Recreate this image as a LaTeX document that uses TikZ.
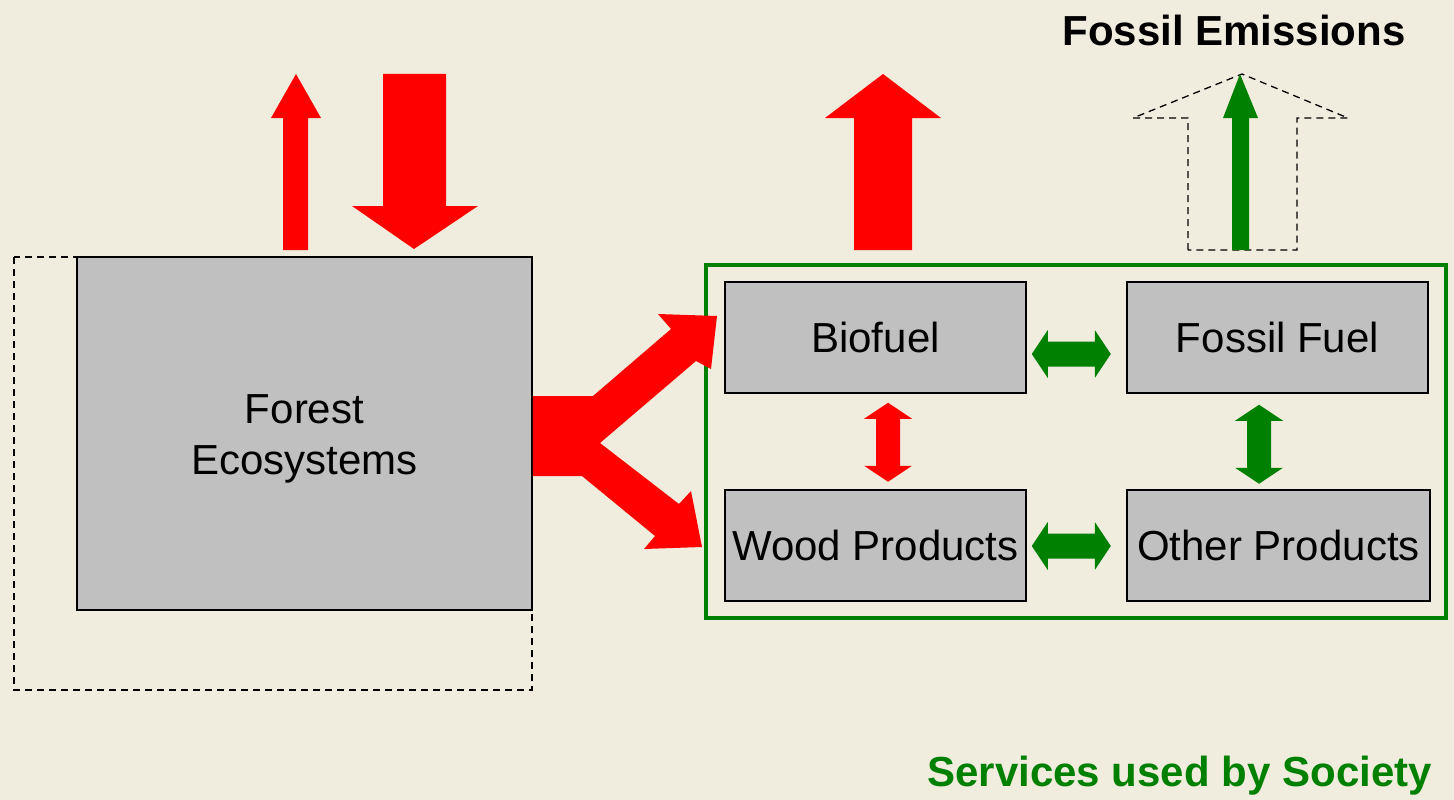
\documentclass[tikz,border=0pt]{standalone}
\usepackage{fontspec}
\setmainfont{Liberation Sans}
\usepackage{tikz}
\usetikzlibrary{calc}
\definecolor{bgcream}{RGB}{241,237,222}
\definecolor{boxgray}{RGB}{192,192,192}
\definecolor{sgreen}{RGB}{0,128,0}
\tikzstyle{box}=[rectangle,draw=black,fill=boxgray,line width=1.5pt,minimum width=301pt,minimum height=111pt,inner sep=0pt,font=\fontsize{42}{51}\selectfont,align=center]
\tikzstyle{lbl}=[inner sep=0pt,font=\fontsize{42}{51}\selectfont\bfseries]
\newcommand{\hdarr}[2]{\fill[#2] (#1) -- ++(16,-24) -- ++(0,11.5) -- ++(47,0) -- ++(0,-11.5) -- ++(16,24) -- ++(-16,24) -- ++(0,-11.5) -- ++(-47,0) -- ++(0,11.5) -- cycle;}
\newcommand{\vdarr}[2]{\fill[#2] (#1) -- ++(24,16) -- ++(-12,0) -- ++(0,47) -- ++(12,0) -- ++(-24,16) -- ++(-24,-16) -- ++(12,0) -- ++(0,-47) -- ++(-12,0) -- cycle;}
\begin{document}
\begin{tikzpicture}[x=1pt,y=-1pt]
\fill[bgcream] (0,0) rectangle (1454,800);
\useasboundingbox (0,0) rectangle (1454,800);
\draw[dashed,dash pattern=on 7pt off 5pt,line width=1.3pt] (14,257) rectangle (532,690);
\node[box,minimum width=455pt,minimum height=353pt] (forest) at (304.5,433.5) {};
\node[align=center,inner sep=0pt,font=\fontsize{42}{51}\selectfont] (forestlbl) at (304.5,438.5) {Forest\\Ecosystems};
\node[draw=sgreen,line width=4pt,minimum width=740pt,minimum height=353pt,inner sep=0pt] (society) at (1076,441.5) {};
\node[box] (bio) at (875.5,337.5) {Biofuel};
\node[box] (fossil) at (1277.5,337.5) {Fossil Fuel};
\node[box] (wood) at (875.5,545.5) {Wood Products};
\node[box,minimum width=303pt] (other) at (1278.5,545.5) {Other Products};
\node[lbl] (emis) at (1234,30) {Fossil Emissions};
\node[lbl,text=sgreen,anchor=east] (serv) at (1432,776) {Services used by Society};
\fill[red] (283,250) -- (283,118) -- (271,118) -- (296,74) -- (321,118) -- (308,118) -- (308,250) -- cycle;
\fill[red] (383,74) -- (446,74) -- (446,206) -- (478,206) -- (414,249) -- (352,206) -- (383,206) -- cycle;
\fill[red] (854,250) -- (854,118) -- (825,118) -- (883,74) -- (941,118) -- (912,118) -- (912,250) -- cycle;
\draw[dashed,dash pattern=on 7pt off 5pt,line width=1.3pt] (1188,250) -- (1188,118) -- (1133,118) -- (1242,74) -- (1348,118) -- (1297,118) -- (1297,250) -- cycle;
\fill[sgreen] (1232,250) -- (1232,118) -- (1223,118) -- (1240,74) -- (1258,118) -- (1249,118) -- (1249,250) -- cycle;
\fill[red] (forest.east |- 0,396) -- (593,396) -- (671,329) -- (658,314) -- (717,316) -- (711,369) -- (696,361) -- (600,443) -- (679,504) -- (691,491) -- (702,547) -- (644,549) -- (655,536) -- (582,476) -- (forest.east |- 0,476) -- cycle;
\hdarr{$(bio.east)+(5,16.5)$}{sgreen}
\hdarr{$(wood.east)+(5,0.5)$}{sgreen}
\vdarr{$(bio.south)+(12.5,9)$}{red}
\vdarr{$(fossil.south)+(-18.5,11)$}{sgreen}
\end{tikzpicture}
\end{document}
